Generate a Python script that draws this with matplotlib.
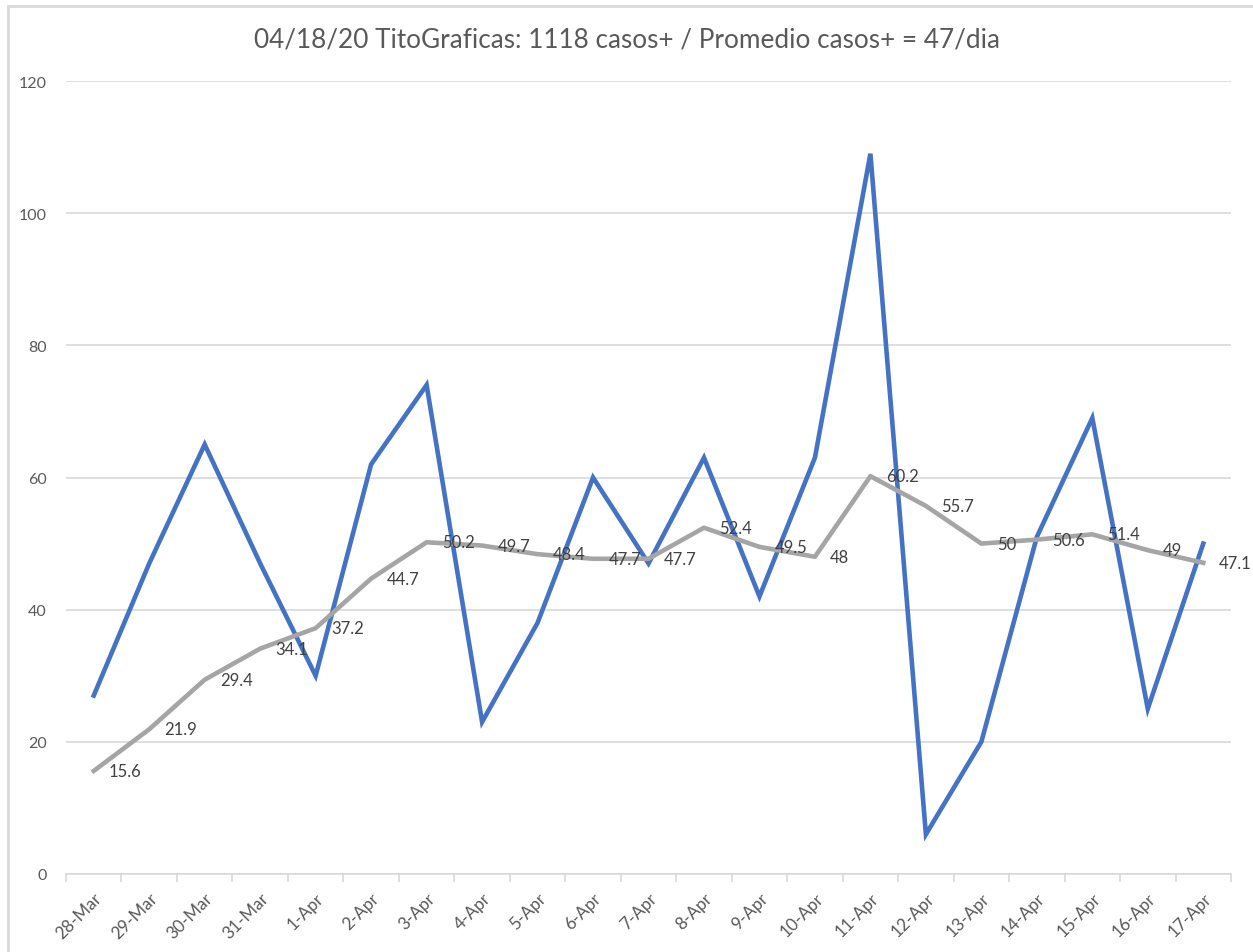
import matplotlib.pyplot as plt
from matplotlib.patches import Rectangle

# data
dates = ['28-Mar', '29-Mar', '30-Mar', '31-Mar', '1-Apr', '2-Apr', '3-Apr',
         '4-Apr', '5-Apr', '6-Apr', '7-Apr', '8-Apr', '9-Apr', '10-Apr',
         '11-Apr', '12-Apr', '13-Apr', '14-Apr', '15-Apr', '16-Apr', '17-Apr']
casos = [27, 47, 65, 47, 30, 62, 74, 23, 38, 60, 47, 63, 42, 63, 109, 6,
         20, 51, 69, 25, 50]
promedio = [15.6, 21.9, 29.4, 34.1, 37.2, 44.7, 50.2, 49.7, 48.4, 47.7, 47.7,
            52.4, 49.5, 48, 60.2, 55.7, 50, 50.6, 51.4, 49, 47.1]
promedio_labels = ['15.6', '21.9', '29.4', '34.1', '37.2', '44.7', '50.2',
                   '49.7', '48.4', '47.7', '47.7', '52.4', '49.5', '48',
                   '60.2', '55.7', '50', '50.6', '51.4', '49', '47.1']

plt.rcParams['font.family'] = ['Lato', 'DejaVu Sans']
text_color = '#595959'
grid_color = '#D9D9D9'

fig = plt.figure(figsize=(12.53, 9.53), dpi=100)
ax = fig.add_axes([66 / 1253, 1 - 875 / 953, (1231 - 66) / 1253, (875 - 82) / 953])

x = list(range(len(dates)))
ax.plot(x, casos, color='#4472C4', lw=3.3, solid_joinstyle='miter', zorder=3)
ax.plot(x, promedio, color='#A5A5A5', lw=3.3, zorder=4)

for xi, v, s in zip(x, promedio, promedio_labels):
    ax.annotate(s, (xi, v), xytext=(11, 0), textcoords='offset points',
                ha='left', va='center', fontsize=12, color='#404040', zorder=5)

ax.set_xlim(-0.5, len(dates) - 0.5)
ax.set_ylim(0, 120)
ax.set_yticks(range(0, 121, 20))
ax.grid(axis='y', color=grid_color, lw=1.2)
ax.set_axisbelow(True)

ax.set_xticks([i + 0.5 for i in range(-1, len(dates))])
ax.set_xticklabels([])
ax.set_xticks(x, minor=True)
ax.set_xticklabels(dates, minor=True, rotation=45, ha='right', va='top',
                   rotation_mode='anchor', fontsize=12.3, color=text_color)
ax.tick_params(axis='x', which='major', length=6, color=grid_color, width=1.2)
ax.tick_params(axis='x', which='minor', length=0, pad=11)
ax.tick_params(axis='y', length=0, labelsize=11.5, labelcolor=text_color, pad=14)

for side in ['top', 'right', 'left']:
    ax.spines[side].set_visible(False)
ax.spines['bottom'].set_color(grid_color)
ax.spines['bottom'].set_linewidth(1.2)

fig.text(0.5, 1 - 40 / 953, '04/18/20 TitoGraficas: 1118 casos+ / Promedio casos+ = 47/dia',
         ha='center', va='center', fontsize=18.8, color=text_color)

# chart border
fig.patches.append(Rectangle((8 / 1253, -0.1), 1.2, 1 - 7 / 953 + 0.1,
                             transform=fig.transFigure, fill=False,
                             edgecolor=grid_color, lw=2))

fig.savefig('out.png', dpi=100, facecolor='white')
